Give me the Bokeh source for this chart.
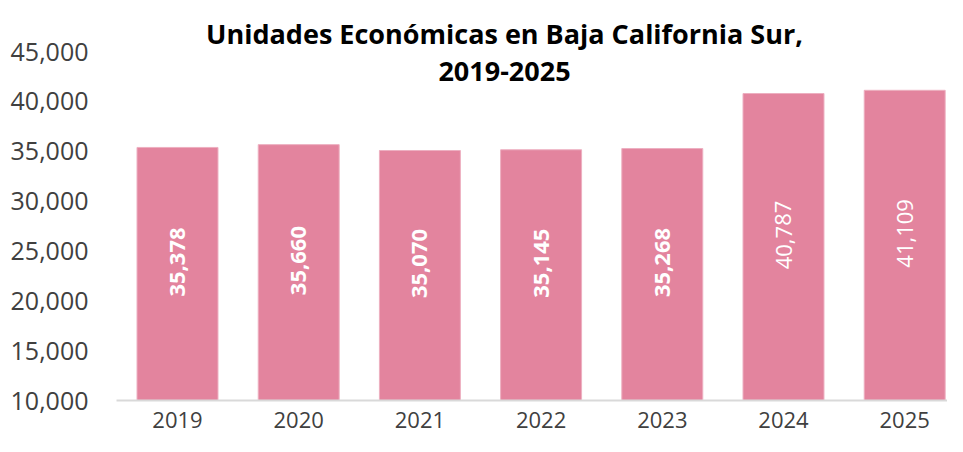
from bokeh.plotting import figure
from bokeh.models import Range1d, FixedTicker, ColumnDataSource, Label
from bokeh.core.properties import value
from bokeh.embed import file_html
from bokeh.resources import INLINE

years = ["2019", "2020", "2021", "2022", "2023", "2024", "2025"]
unidades = [35378, 35660, 35070, 35145, 35268, 40787, 41109]
y_ticks = [10000, 15000, 20000, 25000, 30000, 35000, 40000, 45000]
title_lines = ["Unidades Económicas en Baja California Sur,", "2019-2025"]

BAR = "#E3849E"
FONT = "Open Sans"
Y0 = y_ticks[0]

# layout targets (pixels in the canvas)
W, H = 947, 436
LEFT, BOTTOM = 116, 36
FRAME_H = H - BOTTOM            # frame spans the full height above the x axis
TOP_TICK_PX = 51                # pixel row of the highest tick
px_per_unit = (FRAME_H - TOP_TICK_PX) / (y_ticks[-1] - Y0)
y_end = Y0 + FRAME_H / px_per_unit

step_px = 121.2
first_center_px = 177
x_start = -(first_center_px - LEFT) / step_px
x_end = x_start + (W - LEFT) / step_px

xs = list(range(len(years)))
labels = [f"{v:,}" for v in unidades]
mids = [(v + Y0) / 2 for v in unidades]
styles = ["bold"] * 5 + ["normal"] * 2

p = figure(width=W, height=H, output_backend="svg", toolbar_location=None,
           x_range=Range1d(x_start, x_end), y_range=Range1d(Y0, y_end),
           min_border_left=LEFT, min_border_right=0, min_border_top=0, min_border_bottom=BOTTOM)
p.outline_line_color = None
p.xgrid.grid_line_color = None
p.ygrid.grid_line_color = None
p.background_fill_color = "white"
p.border_fill_color = "white"

src = ColumnDataSource(dict(x=xs, top=unidades, mid=mids, label=labels, style=styles))
p.vbar(x="x", top="top", bottom=Y0, width=0.668, source=src,
       fill_color=BAR, line_color="#EDAFC0", line_width=1)

p.text(x="x", y="mid", text="label", source=src, angle=1.5708,
       text_align="center", text_baseline="middle", y_offset=-12,
       text_color="white", text_font=value(FONT), text_font_size="22px",
       text_font_style="style")

# axes
p.xaxis.ticker = FixedTicker(ticks=xs)
p.xaxis.major_label_overrides = {i: y for i, y in enumerate(years)}
p.xaxis.axis_line_color = "#D9D9D9"
p.xaxis.axis_line_width = 2
p.xaxis.major_tick_line_color = None
p.xaxis.minor_tick_line_color = None
p.xaxis.major_label_text_font = FONT
p.xaxis.major_label_text_font_size = "22px"
p.xaxis.major_label_text_color = "#404040"
p.xaxis.major_label_standoff = 5

p.yaxis.ticker = FixedTicker(ticks=y_ticks)
p.yaxis.major_label_overrides = {t: f"{t:,}" for t in y_ticks}
p.yaxis.axis_line_color = None
p.yaxis.major_tick_line_color = None
p.yaxis.minor_tick_line_color = None
p.yaxis.major_label_text_font = FONT
p.yaxis.major_label_text_font_size = "25px"
p.yaxis.major_label_text_color = "#404040"
p.yaxis.major_label_standoff = 22

# title (two centered lines), placed inside the frame above the top tick
title_x = x_start + (504 - LEFT) / step_px
for line, base_px in zip(title_lines, [33, 71]):
    p.add_layout(Label(x=title_x, y=y_end - base_px / px_per_unit, text=line,
                       text_align="center", text_baseline="alphabetic",
                       text_font=FONT, text_font_style="bold", text_font_size="27px",
                       text_color="black"))

open("out.html", "w").write(file_html(p, INLINE))
